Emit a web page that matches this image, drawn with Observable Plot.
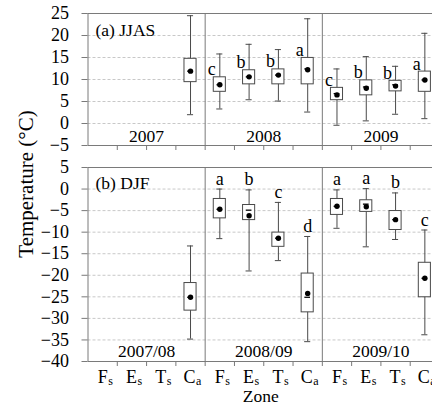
<!DOCTYPE html>
<html><head><meta charset="utf-8">
<script src="https://cdn.jsdelivr.net/npm/d3@7"></script>
<script src="https://cdn.jsdelivr.net/npm/@observablehq/plot@0.6"></script>
<style>
html,body{margin:0;padding:0;background:#fff;overflow:hidden;width:432px;height:406px}
#wrap{position:relative;width:432px;height:406px;font-family:"Liberation Serif",serif}
#top,#bot,#ylab{position:absolute;left:0}
#top{top:0}
#bot{top:158px}
#ylab{top:0;pointer-events:none}
</style></head>
<body><div id="wrap"><div id="top"></div><div id="bot"></div>
<svg id="ylab" width="60" height="406"><text transform="translate(33,184) rotate(-90)" text-anchor="middle" font-family="Liberation Serif" font-size="21" fill="black">Temperature (°C)</text></svg>
</div>
<script>
// ---- data ----
const zoneMain = ["F", "E", "T", "C"];
const zoneSub = ["s", "s", "s", "a"];
const summerLabels = ["2007", "2008", "2009"];
const winterLabels = ["2007/08", "2008/09", "2009/10"];
const jjasTicks = [-5, 0, 5, 10, 15, 20, 25];
const djfTicks = [-40, -35, -30, -25, -20, -15, -10, -5, 0, 5];

// JJAS (panel a)
const jjasGroup = [0, 1, 1, 1, 1, 2, 2, 2, 2];
const jjasZone  = [3, 0, 1, 2, 3, 0, 1, 2, 3];
const jjasMin   = [2.0, 3.3, 5.4, 5.1, 2.6, -0.4, 0.6, 2.1, 1.1];
const jjasQ1    = [9.4, 7.2, 8.9, 8.9, 8.9, 5.3, 6.4, 7.3, 7.2];
const jjasMed   = [11.9, 8.8, 10.6, 11.0, 12.4, 6.8, 8.3, 8.8, 9.9];
const jjasQ3    = [14.7, 10.5, 12.1, 12.3, 14.9, 8.1, 9.8, 9.7, 11.8];
const jjasMax   = [24.5, 15.8, 18.0, 16.8, 23.8, 12.4, 15.2, 13.0, 20.5];
const jjasMean  = [11.9, 8.8, 10.6, 11.0, 12.2, 6.5, 8.0, 8.5, 9.9];
const jjasLetter = ["", "c", "b", "b", "a", "c", "b", "b", "a"];

// DJF (panel b)
const djfGroup = [0, 1, 1, 1, 1, 2, 2, 2, 2];
const djfZone  = [3, 0, 1, 2, 3, 0, 1, 2, 3];
const djfMin   = [-34.8, -11.5, -19.0, -16.6, -35.4, -9.1, -13.4, -11.7, -33.8];
const djfQ1    = [-28.2, -6.8, -7.2, -13.4, -28.6, -6.0, -5.3, -9.5, -25.1];
const djfMed   = [-25.1, -4.7, -4.9, -11.4, -25.1, -4.0, -3.5, -7.1, -20.7];
const djfQ3    = [-21.8, -2.3, -3.7, -10.1, -19.6, -2.3, -2.6, -5.1, -17.1];
const djfMax   = [-13.2, 0.0, -0.2, -3.1, -11.0, -0.2, 0.1, -0.9, -9.5];
const djfMean  = [-25.1, -4.7, -6.2, -11.4, -24.2, -4.0, -4.1, -7.1, -20.7];
const djfLetter = ["", "a", "b", "c", "d", "a", "a", "b", "c"];

// ---- build ----
function rows(g, z, mn, q1, md, q3, mx, mean, let_) {
  return g.map((gi, i) => ({slot: gi * 4 + z[i], min: mn[i], q1: q1[i], med: md[i], q3: q3[i], max: mx[i], mean: mean[i], letter: let_[i]}));
}
const jjas = rows(jjasGroup, jjasZone, jjasMin, jjasQ1, jjasMed, jjasQ3, jjasMax, jjasMean, jjasLetter);
const djf = rows(djfGroup, djfZone, djfMin, djfQ1, djfMed, djfQ3, djfMax, djfMean, djfLetter);
const slots = d3.range(12).map(i => ({slot: i, main: zoneMain[i % 4], sub: zoneSub[i % 4]}));
const boundaries = d3.range(1, 12);
const dividers = [4, 8];

const frameC = "#7a7a7a", boxC = "#4a4a4a", gridC = "#c8c8c8";
const W = 432;
const xScale = {domain: [0, 12], range: [87.5, 439], axis: null};

function boxMarks(data) {
  return [
    Plot.ruleX(data, {x: d => d.slot + 0.5, y1: "min", y2: "max", stroke: boxC, strokeWidth: 1}),
    Plot.ruleY(data, {y: "max", x1: d => d.slot, x2: d => d.slot + 1, insetLeft: 11.6, insetRight: 11.6, stroke: boxC}),
    Plot.ruleY(data, {y: "min", x1: d => d.slot, x2: d => d.slot + 1, insetLeft: 11.6, insetRight: 11.6, stroke: boxC}),
    Plot.rect(data, {x1: d => d.slot, x2: d => d.slot + 1, y1: "q1", y2: "q3", insetLeft: 8.6, insetRight: 8.6, fill: "white", stroke: boxC, strokeWidth: 1}),
    Plot.ruleY(data, {y: "med", x1: d => d.slot, x2: d => d.slot + 1, insetLeft: 11.8, insetRight: 11.8, stroke: "black", strokeWidth: 1.3}),
    Plot.dot(data, {x: d => d.slot + 0.5, y: "mean", r: 2.7, fill: "black", stroke: null})
  ];
}

const common = {fontFamily: "'Liberation Serif', serif", fontSize: "18px", background: "white", color: "black"};

const topPlot = Plot.plot({
  width: W, height: 158,
  marginLeft: 87.5, marginRight: 0, marginTop: 13, marginBottom: 13,
  x: xScale,
  y: {domain: [-5, 25], range: [145, 13], axis: null},
  style: common,
  marks: [
    Plot.ruleY(jjasTicks.slice(1, -1), {stroke: gridC, strokeDasharray: "3,2"}),
    Plot.ruleY([25], {stroke: frameC}),
    Plot.ruleY([-5], {stroke: frameC}),
    Plot.ruleX([0], {stroke: frameC}),
    Plot.ruleX(dividers, {stroke: frameC}),
    Plot.axisY(jjasTicks, {tickSize: 6, tickPadding: 13, stroke: frameC, fill: "black", fontSize: 18, label: null}),
    Plot.axisX(boundaries, {tickSize: 5, tickFormat: () => "", stroke: frameC, label: null}),
    ...boxMarks(jjas),
    Plot.text(jjas.filter(d => d.letter), {x: d => d.slot + 0.5, y: "q3", text: "letter", dx: -8, dy: -2, lineAnchor: "bottom", fontSize: 18}),
    Plot.text(summerLabels, {x: (d, i) => i * 4 + 2, text: d => d, frameAnchor: "bottom", lineAnchor: "bottom", dy: -3.5, fontSize: 17.5}),
    Plot.text(["(a) JJAS"], {frameAnchor: "top-left", text: d => d, textAnchor: "start", lineAnchor: "bottom", dx: 7.5, dy: 22, fontSize: 17.5})
  ]
});
document.getElementById("top").append(topPlot);

const botPlot = Plot.plot({
  width: W, height: 248,
  marginLeft: 87.5, marginRight: 0, marginTop: 9, marginBottom: 45,
  x: xScale,
  y: {domain: [-40, 5], range: [203, 9], axis: null},
  style: common,
  marks: [
    Plot.ruleY(djfTicks.slice(1, -1), {stroke: gridC, strokeDasharray: "3,2"}),
    Plot.ruleY([5], {stroke: frameC}),
    Plot.ruleY([-40], {stroke: frameC}),
    Plot.ruleX([0], {stroke: frameC}),
    Plot.ruleX(dividers, {stroke: frameC}),
    Plot.axisY(djfTicks, {tickSize: 6, tickPadding: 13, stroke: frameC, fill: "black", fontSize: 18, label: null}),
    Plot.axisX(boundaries, {tickSize: 5, tickFormat: () => "", stroke: frameC, label: null}),
    ...boxMarks(djf),
    Plot.text(djf.filter(d => d.letter), {x: d => d.slot + 0.5, y: "max", text: "letter", dy: -4.5, lineAnchor: "bottom", fontSize: 18}),
    Plot.text(winterLabels, {x: (d, i) => i * 4 + 2, text: d => d, frameAnchor: "bottom", lineAnchor: "bottom", dy: -5, fontSize: 17.5}),
    Plot.text(["(b) DJF"], {frameAnchor: "top-left", text: d => d, textAnchor: "start", lineAnchor: "bottom", dx: 7.5, dy: 21, fontSize: 17.5}),
    Plot.text(slots, {x: d => d.slot + 0.5, text: "main", frameAnchor: "bottom", lineAnchor: "bottom", textAnchor: "end", dx: 5, dy: 21.7, fontSize: 18}),
    Plot.text(slots, {x: d => d.slot + 0.5, text: "sub", frameAnchor: "bottom", lineAnchor: "bottom", textAnchor: "start", dx: 5.5, dy: 23.7, fontSize: 12}),
    Plot.text(["Zone"], {x: 6, text: d => d, frameAnchor: "bottom", lineAnchor: "bottom", dx: -3, dy: 40.8, fontSize: 17.5})
  ]
});
document.getElementById("bot").append(botPlot);
</script>
</body></html>
